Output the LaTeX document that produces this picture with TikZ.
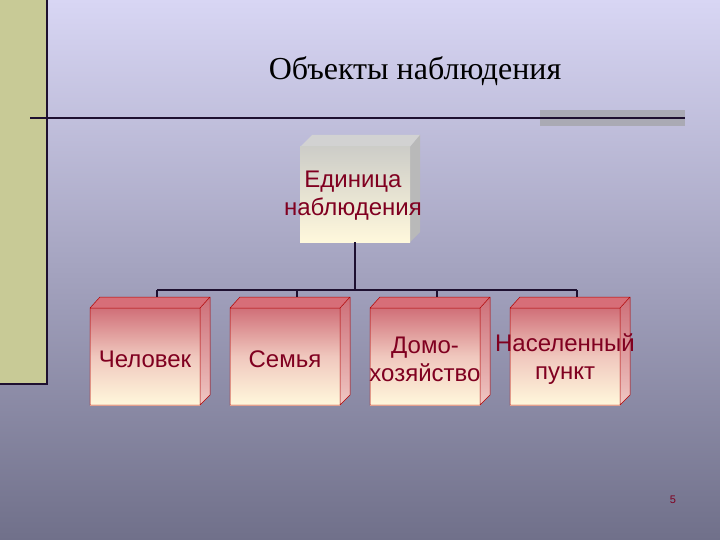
\documentclass[tikz,border=0pt]{standalone}
\usepackage{fontspec}
\setmainfont{Liberation Serif}
\newfontfamily\arial{Liberation Sans}
\begin{document}
\begin{tikzpicture}[x=1pt,y=-1pt,
  lbl/.style={font=\arial\fontsize{24}{28}\selectfont, text=txtred, align=center, inner sep=0},
  conn/.style={draw=linedark, line width=1.6pt}]
\definecolor{txtred}{HTML}{800020}
\definecolor{linedark}{HTML}{1E1030}
\definecolor{redtop}{HTML}{D06F78}
\definecolor{cream}{HTML}{FFF8DC}
\useasboundingbox (0,0) rectangle (720,540);
\shade[top color={rgb,255:red,216;green,214;blue,244}, bottom color={rgb,255:red,112;green,112;blue,138}] (0,0) rectangle (720,540);
% left band
\fill[fill={rgb,255:red,200;green,202;blue,150}] (0,0) rectangle (47,383);
\draw[linedark, line width=2.5pt] (47,0) -- (47,384) -- (0,384);
% title
\node[font=\fontsize{32}{36}\selectfont, text=black] (title) at (415,71) {Объекты наблюдения};
\fill[fill={rgb,255:red,170;green,170;blue,180}] (540,110) rectangle (685,126);
\draw[linedark, line width=1.2pt] (30,118) -- (685,118);
% top box
\fill[gray!35] (300,147) -- (312,135) -- (420,135) -- (410,147) -- cycle;
\fill[gray!55] (410,147) -- (420,135) -- (420,232) -- (410,242) -- cycle;
\shade[top color={rgb,255:red,205;green,205;blue,200}, bottom color=cream] (300,147) rectangle (410,242);
\node[lbl] (unit) at (353,196) {Единица\\наблюдения};
\coordinate (ub) at (355,242);
\coordinate (bus) at (355,290);
\draw[conn] (ub) -- (bus);
\draw[conn] (157,290) -- (577,290);
\foreach \x/\n/\t in {90/a/Человек,230/b/Семья,370/c/{Домо-\\хозяйство},510/d/{Населенный\\пункт}}{
  \fill[fill={rgb,255:red,215;green,110;blue,120}] (\x,308) -- (\x+10,297) -- (\x+120,297) -- (\x+110,308) -- cycle;
  \shade[top color={rgb,255:red,205;green,110;blue,120}, bottom color={rgb,255:red,240;green,200;blue,195}] (\x+110,308) -- (\x+120,297) -- (\x+120,395) -- (\x+110,405) -- cycle;
  \shade[top color=redtop, bottom color=cream, middle color={rgb,255:red,240;green,200;blue,190}] (\x,308) rectangle (\x+110,405);
  \draw[red!70!black, line width=0.5pt] (\x,308) rectangle (\x+110,405) (\x,308) -- (\x+10,297) -- (\x+120,297) -- (\x+120,395) -- (\x+110,405) (\x+110,308) -- (\x+120,297);
  \node[lbl] (\n) at (\x+55,359) {\t};
  \draw[conn] (\x+67,290) -- (\x+67,297);
}
\node[font=\arial\fontsize{11}{12}\selectfont, text=txtred] (pg) at (673,500) {5};
\end{tikzpicture}
\end{document}
